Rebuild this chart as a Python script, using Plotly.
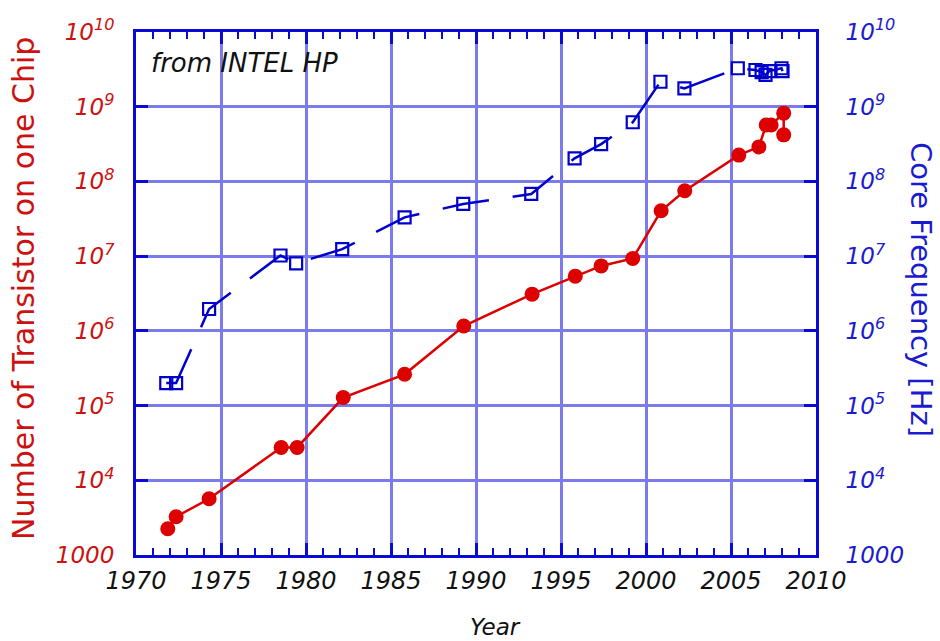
import plotly.graph_objects as go

# Transistor count per chip (Intel processors)
trans_year = [1971.87, 1972.36, 1974.3, 1978.54, 1979.48, 1982.19, 1985.8, 1989.28,
              1993.3, 1995.84, 1997.36, 1999.22, 2000.89, 2002.28, 2005.46, 2006.64,
              2007.07, 2007.36, 2008.1, 2008.1]
transistors = [2250, 3250, 5650, 27500, 27500, 128000, 262000, 1.16e6,
               3.1e6, 5.4e6, 7.4e6, 9.3e6, 4.05e7, 7.5e7, 2.25e8, 2.9e8,
               5.7e8, 5.7e8, 8.2e8, 4.2e8]

# Core clock frequency in Hz
freq_year = [1971.78, 1972.36, 1974.3, 1978.5, 1979.42, 1982.13, 1985.8, 1989.25,
             1993.25, 1995.8, 1997.36, 1999.22, 2000.85, 2002.26, 2005.4, 2006.44,
             2006.8, 2007.03, 2007.26, 2007.97, 2008.03]
frequency = [2.0e5, 2.0e5, 1.96e6, 1.02e7, 8.0e6, 1.24e7, 3.3e7, 5.0e7,
             6.8e7, 2.04e8, 3.16e8, 6.2e8, 2.16e9, 1.76e9, 3.27e9, 3.1e9,
             2.9e9, 2.66e9, 3.0e9, 3.27e9, 3.0e9]

# Decade ticks shared by both log axes
decade_vals = [1e3, 1e4, 1e5, 1e6, 1e7, 1e8, 1e9, 1e10]
decade_text = ["1000", "10<sup>4</sup>", "10<sup>5</sup>", "10<sup>6</sup>",
               "10<sup>7</sup>", "10<sup>8</sup>", "10<sup>9</sup>", "10<sup>10</sup>"]
year_range = [1970, 2010]
year_major_step = 5
year_minor_step = 1

RED = "#dd0000"
RED_TXT = "#cc1111"
BLUE = "#0000cc"
BLUE_TXT = "#1a1ad0"
FRAME = "#0a0ad8"
GRID = "#7b7beb"
FONT = "DejaVu Sans"

W, H = 940, 641
ML, MR, MT, MB = 136, 124, 32, 86
PW, PH = W - ML - MR, H - MT - MB


def px(x):
    return (x - ML) / PW


def py(y):
    return (H - MB - y) / PH


fig = go.Figure()

fig.add_trace(go.Scatter(
    x=trans_year, y=transistors, mode="lines+markers",
    line=dict(color=RED, width=2.5),
    marker=dict(symbol="circle", size=15, color=RED),
    xaxis="x", yaxis="y", showlegend=False,
))

# frequency series lives on the top/right axis pair
fig.add_trace(go.Scatter(
    x=freq_year, y=frequency, mode="lines+markers",
    line=dict(color=BLUE, width=2.5, dash="47px,24px"),
    marker=dict(symbol="square-open", size=12, color=BLUE, line=dict(width=2.2, color=BLUE)),
    xaxis="x2", yaxis="y2", showlegend=False,
))

year_ticks_style = dict(
    tickmode="linear", tick0=year_range[0], dtick=year_major_step,
    ticks="inside", ticklen=12, tickwidth=3, tickcolor=FRAME,
    minor=dict(tickmode="linear", tick0=year_range[0], dtick=year_minor_step,
               ticks="inside", ticklen=7, tickwidth=2, tickcolor=FRAME, showgrid=False),
)

fig.update_layout(
    width=W, height=H,
    margin=dict(l=ML, r=MR, t=MT, b=MB),
    paper_bgcolor="white", plot_bgcolor="white",
    xaxis=dict(
        range=year_range,
        showgrid=True, gridcolor=GRID, gridwidth=2.5,
        showline=True, linecolor=FRAME, linewidth=3,
        tickfont=dict(family=FONT, size=24, color="#111111", style="italic"),
        ticklabelstandoff=2, zeroline=False,
        **year_ticks_style,
    ),
    # top edge of the frame with its own major and minor year ticks
    xaxis2=dict(
        range=year_range, overlaying="x", side="top", anchor="y2",
        showgrid=False, showticklabels=False,
        showline=True, linecolor=FRAME, linewidth=3, zeroline=False,
        **year_ticks_style,
    ),
    yaxis=dict(
        type="log", range=[3, 10], tickvals=decade_vals, ticktext=decade_text,
        showgrid=True, gridcolor=GRID, gridwidth=2.5,
        showline=True, linecolor=FRAME, linewidth=3, mirror=True,
        ticks="inside", ticklen=12, tickwidth=3, tickcolor=FRAME,
        tickfont=dict(family=FONT, size=23, color=RED_TXT, style="italic"),
        ticklabelstandoff=14, zeroline=False,
    ),
    yaxis2=dict(
        type="log", range=[3, 10], tickvals=decade_vals, ticktext=decade_text,
        overlaying="y", side="right", anchor="x2", showgrid=False,
        showline=True, linecolor=FRAME, linewidth=3,
        ticks="inside", ticklen=12, tickwidth=3, tickcolor=FRAME,
        tickfont=dict(family=FONT, size=23, color=BLUE_TXT, style="italic"),
        ticklabelstandoff=22, zeroline=False,
    ),
    annotations=[
        dict(text="Number of Transistor on one Chip", textangle=-90,
             x=px(23), y=py(289), xref="paper", yref="paper",
             xanchor="center", yanchor="middle", showarrow=False,
             font=dict(family=FONT, size=30, color=RED_TXT)),
        dict(text="Core Frequency [Hz]", textangle=90,
             x=px(921), y=py(290), xref="paper", yref="paper",
             xanchor="center", yanchor="middle", showarrow=False,
             font=dict(family=FONT, size=29, color=BLUE_TXT)),
        dict(text="Year", x=px(495), y=py(627), xref="paper", yref="paper",
             xanchor="center", yanchor="middle", showarrow=False,
             font=dict(family=FONT, size=23, color="#111111", style="italic")),
        dict(text="from INTEL HP", x=px(149), y=py(63), xref="paper", yref="paper",
             xanchor="left", yanchor="middle", showarrow=False,
             font=dict(family=FONT, size=26, color="#111111", style="italic")),
    ],
)

fig.write_html("out.html")
